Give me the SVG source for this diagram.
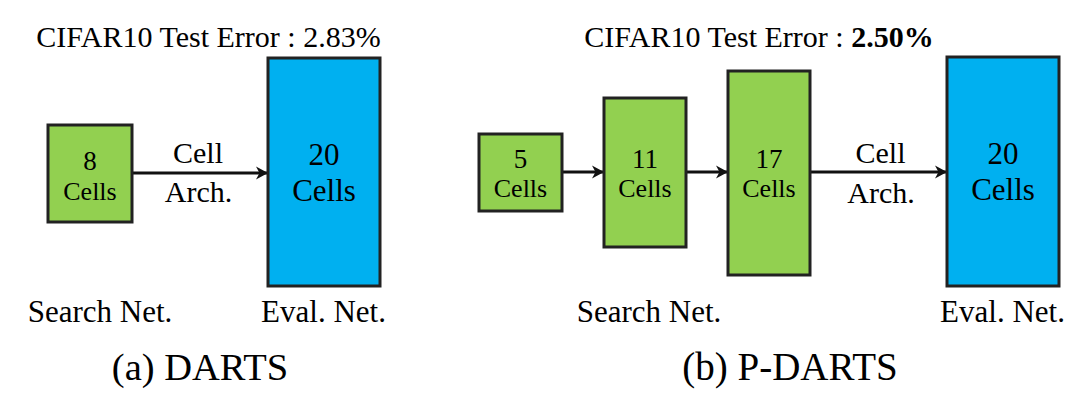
<svg xmlns="http://www.w3.org/2000/svg" width="1080" height="402" viewBox="0 0 1080 402">
<style>
.g{fill:#92D050;stroke:#222;stroke-width:3}
.b{fill:#00B0F0;stroke:#222;stroke-width:3}
.c{stroke:#111;stroke-width:3;fill:none}
</style>
<defs>
<marker id="ah" markerUnits="userSpaceOnUse" markerWidth="14" markerHeight="14" refX="12" refY="7" orient="auto" viewBox="0 0 14 14">
<path d="M0,0.5 L12,7 L0,13.5 L3.5,7 Z" fill="#111"/>
</marker>
</defs>
<rect width="1080" height="402" fill="#fff"/>

<g id="title-a"><text font-family="Liberation Serif" font-size="30" text-anchor="middle" x="208.5" y="47">CIFAR10 Test Error : 2.83%</text></g>
<g id="title-b"><text font-family="Liberation Serif" font-size="30" text-anchor="middle" x="759" y="47">CIFAR10 Test Error : <tspan font-weight="bold">2.50%</tspan></text></g>

<g id="connectors">
<line class="c" x1="132" y1="173" x2="268" y2="173" marker-end="url(#ah)"/>
<line class="c" x1="562" y1="172" x2="604" y2="172" marker-end="url(#ah)"/>
<line class="c" x1="686" y1="172" x2="728" y2="172" marker-end="url(#ah)"/>
<line class="c" x1="810" y1="172" x2="947" y2="172" marker-end="url(#ah)"/>
</g>

<g id="a-search">
<rect class="g" x="48" y="125" width="84" height="97"/>
<text font-family="Liberation Serif" font-size="27" text-anchor="middle" x="90" y="170">8</text>
<text font-family="Liberation Serif" font-size="26" text-anchor="middle" x="90" y="200">Cells</text>
</g>
<g id="a-label">
<text font-family="Liberation Serif" font-size="30" text-anchor="middle" x="198" y="163">Cell</text>
<text font-family="Liberation Serif" font-size="30" text-anchor="middle" x="198.5" y="202">Arch.</text>
</g>
<g id="a-eval">
<rect class="b" x="268" y="58" width="112" height="228"/>
<text font-family="Liberation Serif" font-size="31" text-anchor="middle" x="324" y="165">20</text>
<text font-family="Liberation Serif" font-size="31" text-anchor="middle" x="324" y="201">Cells</text>
</g>
<g id="a-captions">
<text font-family="Liberation Serif" font-size="31" text-anchor="middle" x="100" y="322">Search Net.</text>
<text font-family="Liberation Serif" font-size="31" text-anchor="middle" x="323.5" y="322">Eval. Net.</text>
<text font-family="Liberation Serif" font-size="38.5" text-anchor="middle" x="200" y="380">(a) DARTS</text>
</g>

<g id="b-search5">
<rect class="g" x="479" y="134" width="83" height="77"/>
<text font-family="Liberation Serif" font-size="27" text-anchor="middle" x="520.5" y="168">5</text>
<text font-family="Liberation Serif" font-size="26" text-anchor="middle" x="520.5" y="197">Cells</text>
</g>
<g id="b-search11">
<rect class="g" x="604" y="98" width="82" height="149"/>
<text font-family="Liberation Serif" font-size="27" text-anchor="middle" x="645" y="168">11</text>
<text font-family="Liberation Serif" font-size="26" text-anchor="middle" x="645" y="197">Cells</text>
</g>
<g id="b-search17">
<rect class="g" x="728" y="71" width="82" height="204"/>
<text font-family="Liberation Serif" font-size="27" text-anchor="middle" x="769" y="168">17</text>
<text font-family="Liberation Serif" font-size="26" text-anchor="middle" x="769" y="197">Cells</text>
</g>
<g id="b-label">
<text font-family="Liberation Serif" font-size="30" text-anchor="middle" x="880.5" y="163">Cell</text>
<text font-family="Liberation Serif" font-size="30" text-anchor="middle" x="881" y="203">Arch.</text>
</g>
<g id="b-eval">
<rect class="b" x="947" y="57" width="112" height="229"/>
<text font-family="Liberation Serif" font-size="31" text-anchor="middle" x="1003" y="164">20</text>
<text font-family="Liberation Serif" font-size="31" text-anchor="middle" x="1003" y="200">Cells</text>
</g>
<g id="b-captions">
<text font-family="Liberation Serif" font-size="31" text-anchor="middle" x="649" y="322">Search Net.</text>
<text font-family="Liberation Serif" font-size="31" text-anchor="middle" x="1002.5" y="322">Eval. Net.</text>
<text font-family="Liberation Serif" font-size="39" text-anchor="middle" x="790" y="380">(b) P-DARTS</text>
</g>
</svg>
